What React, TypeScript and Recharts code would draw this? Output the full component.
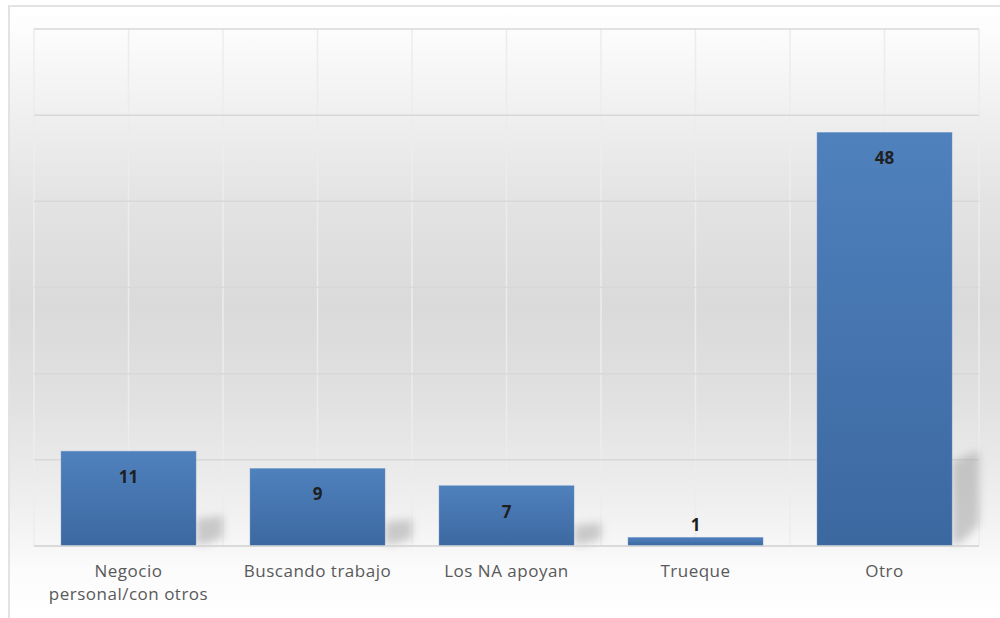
import React from "react";
import {
  BarChart,
  Bar,
  XAxis,
  YAxis,
  CartesianGrid,
  LabelList,
} from "recharts";

const categories = [
  "Negocio personal/con otros",
  "Buscando trabajo",
  "Los NA apoyan",
  "Trueque",
  "Otro",
];
const values = [11, 9, 7, 1, 48];
const yTicks = [0, 10, 20, 30, 40, 50, 60];

const data = categories.map((name, i) => ({ name, value: values[i] }));

const FONT = "'Open Sans', 'Noto Sans', sans-serif";

// greedy word wrap on character count
const wrap = (text: string, max = 18): string[] => {
  const words = text.split(" ");
  const lines: string[] = [];
  let cur = "";
  words.forEach((w) => {
    const next = cur ? cur + " " + w : w;
    if (next.length > max && cur) {
      lines.push(cur);
      cur = w;
    } else {
      cur = next;
    }
  });
  if (cur) lines.push(cur);
  return lines;
};

const CategoryTick = (props: any) => {
  const { x, y, payload } = props;
  const lines = wrap(String(payload.value));
  return (
    <text
      x={x}
      y={y}
      textAnchor="middle"
      fill="#595959"
      fontFamily={FONT}
      fontSize={17}
      letterSpacing={0.5}
    >
      {lines.map((l, i) => (
        <tspan key={i} x={x} dy={23}>
          {l}
        </tspan>
      ))}
    </text>
  );
};

// bar with a soft perspective shadow to its lower right
const ShadowBar = (props: any) => {
  const { x, y, width, height } = props;
  if (height == null || height <= 0) return null;
  const r = x + width;
  const b = y + height;
  const s = height * 0.18 + 10;
  const rise = s * 0.13;
  const sw = 27;
  const showShadow = height > 20;
  const path = `M${r},${b - 1} L${r},${b - s} L${r + sw},${b - s - rise} L${r + sw},${b - s * 0.25 - 2} Q${r + sw * 0.4},${b - 1} ${r},${b - 1} Z`;
  return (
    <g>
      {showShadow && (
        <path d={path} fill="#999999" fillOpacity={0.48} filter="url(#barShadowBlur)" />
      )}
      <rect
        x={x}
        y={y}
        width={width}
        height={height}
        fill="url(#barFill)"
        stroke="#6f97c9"
        strokeOpacity={0.5}
        strokeWidth={0.8}
      />
    </g>
  );
};

const ValueLabel = (props: any) => {
  const { x, y, width, height, value } = props;
  const cx = x + width / 2;
  const inside = height > 30;
  return (
    <text
      x={cx}
      y={inside ? y + 32 : y - 6}
      textAnchor="middle"
      fill="#1f1f1f"
      fontFamily={FONT}
      fontWeight={700}
      fontSize={17}
    >
      {value}
    </text>
  );
};

const App = () => {
  return (
    <div
      style={{
        position: "absolute",
        left: 0,
        top: 0,
        width: 1000,
        height: 618,
        overflow: "hidden",
        background: "#ffffff",
      }}
    >
      <div
        style={{
          position: "absolute",
          left: 8,
          top: 5,
          width: 1010,
          height: 640,
          borderLeft: "2px solid #e3e3e3",
          borderTop: "2px solid #e3e3e3",
          background:
            "linear-gradient(to bottom, #ffffff 0px, #fcfcfc 25px, #efefef 110px, #e3e3e3 195px, #dadada 300px, #e1e1e1 395px, #efefef 495px, #f6f6f6 535px, #fbfbfb 560px, #ffffff 610px)",
        }}
      />
      <div style={{ position: "absolute", left: 0, top: 0 }}>
        <BarChart
          width={1000}
          height={618}
          data={data}
          margin={{ top: 29, right: 21, left: 34, bottom: 12 }}
          barCategoryGap="14.3%"
        >
          <defs>
            <linearGradient id="barFill" x1="0" y1="0" x2="0" y2="1">
              <stop offset="0%" stopColor="#4f81bd" />
              <stop offset="100%" stopColor="#3c68a0" />
            </linearGradient>
            <filter id="barShadowBlur" x="-40%" y="-40%" width="180%" height="180%">
              <feGaussianBlur stdDeviation="4" />
            </filter>
          </defs>
          <CartesianGrid
            horizontal={false}
            stroke="#ececec"
            strokeWidth={1.5}
            verticalCoordinatesGenerator={({ offset }: any) => {
              const n = categories.length * 2;
              return Array.from(
                { length: n + 1 },
                (_, i) => offset.left + (offset.width * i) / n
              );
            }}
          />
          <CartesianGrid vertical={false} stroke="#d8d8d8" strokeWidth={1.5} />
          <XAxis
            dataKey="name"
            height={60}
            interval={0}
            tickLine={false}
            axisLine={{ stroke: "#d9d9d9", strokeWidth: 1.5 }}
            tick={<CategoryTick />}
          />
          <YAxis hide domain={[0, 60]} ticks={yTicks} />
          <Bar dataKey="value" shape={<ShadowBar />} isAnimationActive={false}>
            <LabelList dataKey="value" content={<ValueLabel />} />
          </Bar>
        </BarChart>
      </div>
    </div>
  );
};

export default App;
